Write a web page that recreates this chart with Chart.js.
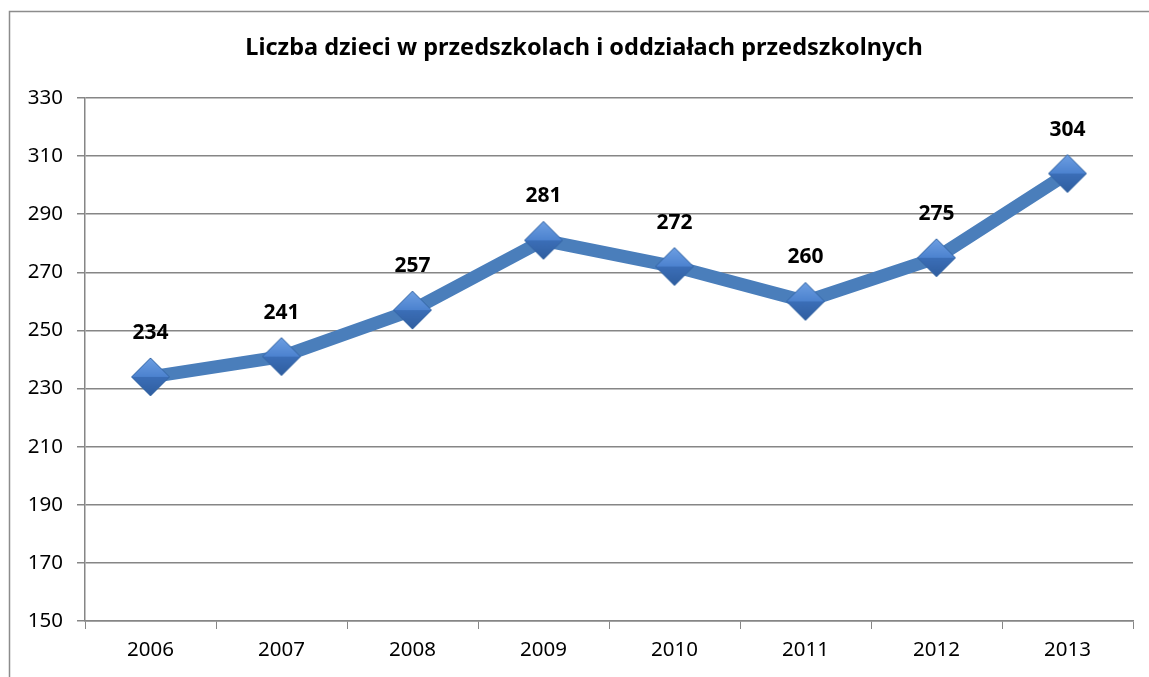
<!DOCTYPE html>
<html>
<head>
<meta charset="utf-8">
<script src="https://cdn.jsdelivr.net/npm/chart.js@4"></script>
<style>
  body { margin: 0; background: #fff; overflow: hidden; }
  #wrap { width: 1149px; height: 677px; position: relative; }
</style>
</head>
<body>
<div id="wrap"><canvas id="myChart" width="1149" height="677"></canvas></div>
<script>
var years = ['2006', '2007', '2008', '2009', '2010', '2011', '2012', '2013'];
var children = [234, 241, 257, 281, 272, 260, 275, 304];
var chartTitle = 'Liczba dzieci w przedszkolach i oddziałach przedszkolnych';
var fontName = '"Noto Sans", "DejaVu Sans", sans-serif';

// diamond marker with a bit of shading, like the office chart
function makeDiamond(size) {
    var c = document.createElement('canvas');
    c.width = size; c.height = size;
    var ctx = c.getContext('2d');
    var h = size / 2;
    var g = ctx.createLinearGradient(0, 0, 0, size);
    g.addColorStop(0, '#6fa0e3');
    g.addColorStop(0.5, '#4c82cf');
    g.addColorStop(0.51, '#3b6eb7');
    g.addColorStop(1, '#2f5d9e');
    ctx.beginPath();
    ctx.moveTo(h, 1); ctx.lineTo(size - 1, h); ctx.lineTo(h, size - 1); ctx.lineTo(1, h);
    ctx.closePath();
    ctx.fillStyle = g;
    ctx.fill();
    ctx.strokeStyle = '#3465a4';
    ctx.lineWidth = 1;
    ctx.stroke();
    return c;
}

var frameAndTitle = {
    id: 'frameAndTitle',
    afterDraw: function(chart) {
        var ctx = chart.ctx;
        ctx.save();
        ctx.strokeStyle = '#8c8c8c';
        ctx.lineWidth = 1.5;
        ctx.strokeRect(9.5, 11.5, 1200, 700);
        ctx.fillStyle = '#000';
        ctx.font = 'bold 23.5px ' + fontName;
        ctx.textAlign = 'center';
        ctx.textBaseline = 'middle';
        ctx.fillText(chartTitle, 584, 48);
        // value labels
        var meta = chart.getDatasetMeta(0);
        ctx.font = 'bold 21px ' + fontName;
        meta.data.forEach(function(pt, i) {
            ctx.fillText(String(children[i]), pt.x, pt.y - 44);
        });
        ctx.restore();
    }
};

document.addEventListener('DOMContentLoaded', function() {
    var myChart = document.getElementById('myChart');
    new Chart(myChart, {
        type: 'line',
        data: {
            labels: years,
            datasets: [{
                data: children,
                borderColor: '#4a7ebb',
                borderWidth: 13,
                pointStyle: makeDiamond(40),
                pointRadius: 20,
                pointHoverRadius: 20,
                tension: 0
            }]
        },
        options: {
            responsive: false,
            animation: false,
            layout: { autoPadding: false, padding: { top: 98, right: 16, left: 0, bottom: 0 } },
            plugins: {
                legend: { display: false },
                tooltip: { enabled: false },
                title: { display: false }
            },
            scales: {
                x: {
                    offset: true,
                    grid: { offset: true, drawOnChartArea: false, drawTicks: true, tickLength: 8, color: '#868686' },
                    border: { color: '#868686', width: 1.5 },
                    ticks: { color: '#000', font: { family: fontName, size: 20.5 }, padding: 9 },
                    afterFit: function(s) { s.height = 56; s.paddingLeft = 0; s.paddingRight = 0; }
                },
                y: {
                    min: 150,
                    max: 330,
                    grid: { color: '#868686', lineWidth: 1.5, tickLength: 8 },
                    border: { color: '#868686', width: 1.5 },
                    ticks: { stepSize: 20, color: '#000', font: { family: fontName, size: 20.5 }, padding: 14 },
                    afterFit: function(s) { s.width = 85; }
                }
            }
        },
        plugins: [frameAndTitle]
    });
});
</script>
</body>
</html>
